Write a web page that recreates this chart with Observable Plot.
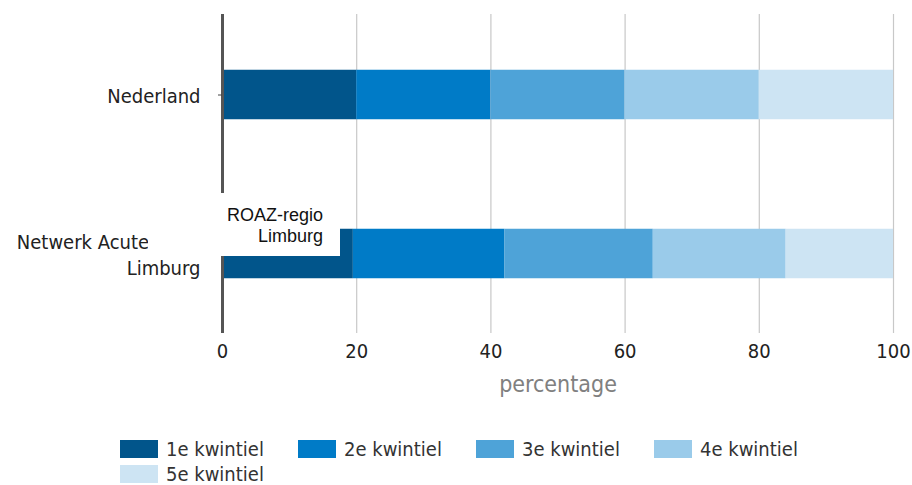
<!DOCTYPE html>
<html><head><meta charset="utf-8">
<script src="https://cdn.jsdelivr.net/npm/d3@7"></script>
<script src="https://cdn.jsdelivr.net/npm/@observablehq/plot@0.6"></script>
<style>
body{margin:0;background:#fff;font-family:"DejaVu Sans Condensed","DejaVu Sans",sans-serif;}
#wrap{position:relative;width:912px;height:485px;}
#chart svg{font-family:"DejaVu Sans Condensed","DejaVu Sans",sans-serif;color:#222;}
g[aria-label="x-axis label"]{fill:#808080;font-size:23px;}
#note{position:absolute;left:148px;top:193px;width:175px;height:51px;padding:12px 17px 0 0;background:#fff;
 font-family:"Liberation Sans",Arial,sans-serif;font-size:18px;line-height:21px;text-align:right;color:#111;}
#legend{position:absolute;left:120px;top:440px;width:760px;}
.item{position:absolute;display:flex;align-items:center;font-size:20px;line-height:18px;color:#333;white-space:nowrap;}
.sw{width:38px;height:18px;margin-right:8px;}
</style></head><body>
<div id="wrap"><div id="chart"></div><div id="note"></div><div id="legend"></div></div>
<script>
const regions = ["Nederland", "Netwerk Acute Limburg"];
const regionLabels = ["Nederland", "Netwerk Acute" + "\u00A0".repeat(9) + "\nLimburg"];
const quintiles = ["1e kwintiel", "2e kwintiel", "3e kwintiel", "4e kwintiel", "5e kwintiel"];
const colors = ["#01558b", "#007bc7", "#4ea3d8", "#9acbea", "#cde4f3"];
const nederland = [20, 20, 20, 20, 20];
const limburg = [19.5, 22.6, 22.1, 19.8, 16.0];
const xTicks = [0, 20, 40, 60, 80, 100];
const xLabel = "percentage";
const annotation = ["ROAZ-regio", "Limburg"];

const seriesByRegion = [nederland, limburg];
const data = [];
regions.forEach((r, i) => quintiles.forEach((q, j) => data.push({region: r, quintile: q, value: seriesByRegion[i][j]})));
const labelOf = new Map(regions.map((r, i) => [r, regionLabels[i]]));

const chart = Plot.plot({
  width: 912, height: 400,
  marginLeft: 222, marginRight: 19, marginTop: 14, marginBottom: 67,
  x: {domain: [0, 100]},
  y: {type: "band", domain: regions, padding: 0},
  color: {domain: quintiles, range: colors},
  marks: [
    Plot.gridX(xTicks, {stroke: "#c8c8c8", strokeOpacity: 1, strokeWidth: 1.2}),
    Plot.barX(data, Plot.stackX({y: "region", x: "value", fill: "quintile", insetTop: 54.75, insetBottom: 54.75})),
    Plot.ruleX([0], {stroke: "#555", strokeWidth: 3}),
    Plot.axisY({tickFormat: d => labelOf.get(d), fontSize: 20, tickSize: 4, tickPadding: 18, lineHeight: 1.3, stroke: "#444", label: null}),
    Plot.axisX(xTicks, {tickSize: 0, tickPadding: 10, fontSize: 20, label: xLabel, labelAnchor: "center", labelArrow: "none", labelOffset: 58})
  ]
});
document.getElementById("chart").appendChild(chart);
document.getElementById("note").innerHTML = annotation.join("<br>");

const legend = document.getElementById("legend");
quintiles.forEach((q, i) => {
  const it = document.createElement("div");
  it.className = "item";
  it.style.left = (i % 4) * 178 + "px";
  it.style.top = Math.floor(i / 4) * 25 + "px";
  it.innerHTML = `<div class="sw" style="background:${colors[i]}"></div><span>${q}</span>`;
  legend.appendChild(it);
});
</script>
</body></html>
